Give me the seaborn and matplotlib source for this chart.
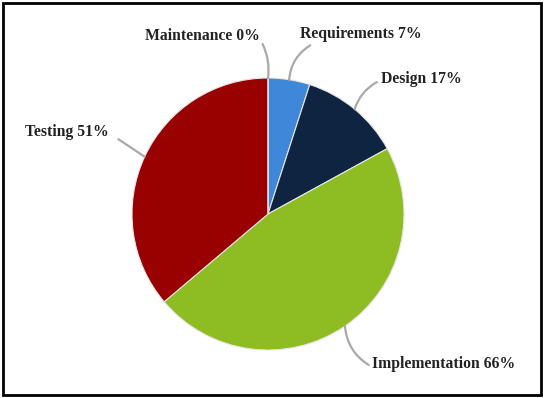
import numpy as np
import seaborn as sns
import matplotlib.pyplot as plt
from matplotlib.patches import Rectangle

phases = ["Requirements", "Design", "Implementation", "Testing", "Maintenance"]
shares = [7, 17, 66, 51, 0]
colors = ["#3E87D9", "#0F2440", "#8DBD22", "#990000", "#C0C0C0"]

sns.set_theme(style="white")
plt.rcParams['font.family'] = ['Liberation Serif', 'DejaVu Serif']

fig = plt.figure(figsize=(5.45, 3.98), dpi=100)
ax = fig.add_axes([0.2422, 0.1206, 0.4991, 0.6834])

wedges, _ = ax.pie(shares, colors=colors, startangle=90, counterclock=False,
                   radius=1.0, wedgeprops=dict(edgecolor="#e6e6e6", linewidth=0.8))
ax.set_xlim(-1, 1)
ax.set_ylim(-1, 1)
ax.set_aspect("equal")
ax.axis("off")

# label layout: text position, leader line end, curvature (data coords)
label_pos = {
    "Requirements": ((0.68, 1.32), (0.31, 1.24), 0.25),
    "Design": ((1.13, 0.99), (0.80, 0.97), 0.2),
    "Implementation": ((1.29, -1.10), (0.74, -1.11), -0.25),
    "Testing": ((-1.48, 0.60), (-1.10, 0.55), 0.0),
    "Maintenance": ((-0.48, 1.31), (-0.04, 1.25), -0.15),
}

for w, name, val in zip(wedges, phases, shares):
    ang = np.deg2rad((w.theta1 + w.theta2) / 2)
    xy = (np.cos(ang), np.sin(ang))
    txt, tail, rad = label_pos[name]
    ax.annotate("", xy=xy, xytext=tail,
                arrowprops=dict(arrowstyle="-", color="#A9A9A9", lw=1.6,
                                shrinkA=0, shrinkB=0,
                                connectionstyle=f"arc3,rad={rad}"),
                annotation_clip=False)
    ax.text(txt[0], txt[1], f"{name} {val}%", ha="center", va="center",
            fontsize=11.3, fontweight="bold", color="#222222")

fig.add_artist(Rectangle((0.005, 0.008), 0.988, 0.984, transform=fig.transFigure,
                         fill=False, edgecolor="black", linewidth=2))

fig.savefig("out.png", dpi=100)
